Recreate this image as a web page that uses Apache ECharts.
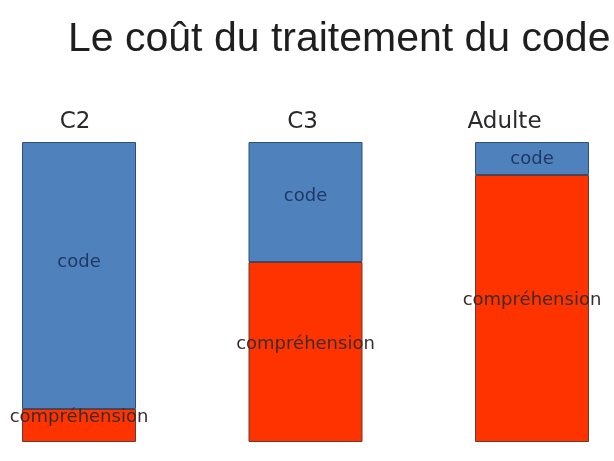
<!DOCTYPE html>
<html>
<head>
<meta charset="utf-8">
<script src="https://cdn.jsdelivr.net/npm/echarts@6/dist/echarts.min.js"></script>
<style>html,body{margin:0;padding:0;background:#fff}#c{width:614px;height:461px}</style>
</head>
<body>
<div id="c"></div>
<script>
const categories = ['C2', 'C3', 'Adulte'];
const comprehension = [11, 60, 89];
const code = [89, 40, 11];
const titleText = 'Le coût du traitement du code';

// label nudges (styling only)
const codeLabelNudge = [-13, -6, 1];

const chart = echarts.init(document.getElementById('c'), null, {renderer: 'canvas'});
const labelKey = {C2: 'a', C3: 'b', Adulte: 'c'};
chart.setOption({
  animation: false,
  backgroundColor: '#ffffff',
  title: {
    text: titleText,
    left: 63,
    top: 14,
    textStyle: {fontFamily: 'Liberation Sans', fontSize: 41, fontWeight: 'normal', color: '#1e1e1e'}
  },
  grid: {left: 79, right: 82, top: 142, bottom: 19, containLabel: false},
  xAxis: {
    type: 'category',
    data: categories,
    position: 'top',
    boundaryGap: false,
    axisLine: {show: false},
    axisTick: {show: false},
    splitLine: {show: false},
    axisLabel: {
      margin: 8,
      interval: 0,
      fontFamily: 'DejaVu Sans',
      fontSize: 23,
      color: '#2a2a2a',
      formatter: v => '{' + labelKey[v] + '|' + v + '}',
      rich: {
        a: {fontFamily: 'DejaVu Sans', fontSize: 23, color: '#2a2a2a', padding: [0, 8, 0, 0]},
        b: {fontFamily: 'DejaVu Sans', fontSize: 23, color: '#2a2a2a', padding: [0, 6, 0, 0]},
        c: {fontFamily: 'DejaVu Sans', fontSize: 23, color: '#2a2a2a', padding: [0, 55, 0, 0]}
      }
    }
  },
  yAxis: {type: 'value', min: 0, max: 100, show: false},
  series: [
    {
      name: 'compréhension',
      type: 'bar',
      stack: 'total',
      barWidth: 114,
      data: comprehension,
      itemStyle: {color: '#ff3300', borderColor: '#6a3a30', borderWidth: 1},
      label: {
        show: true,
        position: 'inside',
        formatter: 'compréhension',
        offset: [0, -8],
        fontFamily: 'DejaVu Sans',
        fontSize: 18,
        color: '#3d2c2c'
      }
    },
    {
      name: 'code',
      type: 'bar',
      stack: 'total',
      barWidth: 114,
      data: code.map((v, i) => ({value: v, label: {offset: [0, codeLabelNudge[i]]}})),
      itemStyle: {color: '#4f81bd', borderColor: '#2f4f7a', borderWidth: 1},
      label: {
        show: true,
        position: 'inside',
        formatter: 'code',
        fontFamily: 'DejaVu Sans',
        fontSize: 18,
        color: '#1f3864'
      }
    }
  ]
});
</script>
</body>
</html>
